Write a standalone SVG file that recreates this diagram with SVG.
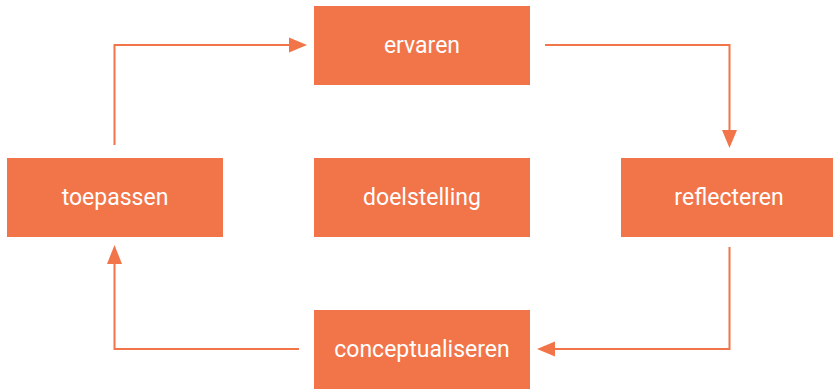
<svg xmlns="http://www.w3.org/2000/svg" width="833" height="389" viewBox="0 0 833 389">
<style>
.box{fill:#F27449}
.lbl{fill:#fff;font-family:Roboto,"Liberation Sans",sans-serif;font-size:23px;text-anchor:middle}
.ln{fill:none;stroke:#F27449;stroke-width:2}
.ah{fill:#F27449}
</style>
<rect width="833" height="389" fill="#fff"/>
<g id="ervaren"><rect class="box" x="314" y="6" width="216" height="79"/><text class="lbl" x="422" y="53">ervaren</text></g>
<g id="toepassen"><rect class="box" x="7" y="158" width="216" height="79"/><text class="lbl" x="115" y="204.5">toepassen</text></g>
<g id="doelstelling"><rect class="box" x="314" y="158" width="216" height="79"/><text class="lbl" x="422" y="204.5">doelstelling</text></g>
<g id="reflecteren"><rect class="box" x="621" y="158" width="212" height="79"/><text class="lbl" x="729" y="204.5">reflecteren</text></g>
<g id="conceptualiseren"><rect class="box" x="314" y="310" width="216" height="79"/><text class="lbl" x="422" y="357">conceptualiseren</text></g>
<g id="connectors">
<polyline class="ln" points="114.5,145 114.5,45 292,45"/>
<polygon class="ah" points="307,45 289,37.5 289,52.5"/>
<polyline class="ln" points="545,45 729.5,45 729.5,132"/>
<polygon class="ah" points="729.5,148 722,130 737,130"/>
<polyline class="ln" points="729.5,247 729.5,349 553,349"/>
<polygon class="ah" points="537,349 555,341.5 555,356.5"/>
<polyline class="ln" points="299,349 114.5,349 114.5,262"/>
<polygon class="ah" points="114.5,245 107,264 122,264"/>
</g>
</svg>
